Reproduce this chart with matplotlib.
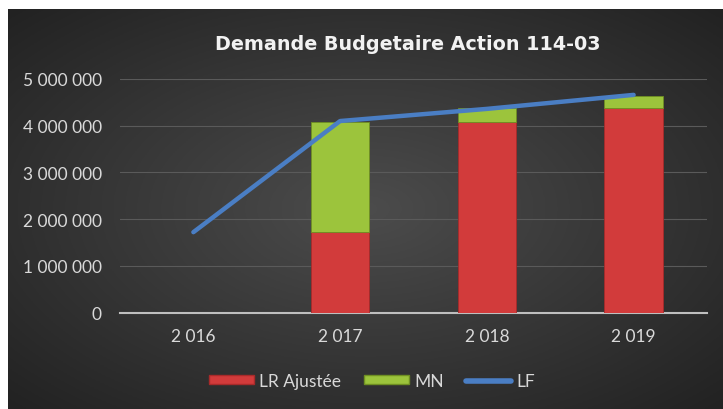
import numpy as np
import matplotlib
matplotlib.use("Agg")
import matplotlib.pyplot as plt
from matplotlib.patches import Patch
from matplotlib.lines import Line2D

# Données
annees = ["2 016", "2 017", "2 018", "2 019"]
lr_ajustee = [0, 1720000, 4080000, 4370000]
mn = [0, 2360000, 300000, 260000]
lf = [1720000, 4100000, 4360000, 4660000]

W, H = 723, 410
fig = plt.figure(figsize=(W / 100, H / 100), dpi=100)
fig.patch.set_facecolor("white")

# Fond sombre avec dégradé radial (zone du graphique, bord blanc en haut/gauche)
x0 = 8 / W
bg = fig.add_axes([x0, 0, 1 - x0, 1 - 10 / H])
yy, xx = np.mgrid[-1:1:200j, -1:1:350j]
r = np.sqrt(xx ** 2 + yy ** 2) / np.sqrt(2)
c_in = np.array([0x4c, 0x4c, 0x4c]) / 255
c_out = np.array([0x22, 0x22, 0x22]) / 255
img = c_in[None, None, :] * (1 - r[..., None]) + c_out[None, None, :] * r[..., None]
bg.imshow(img, aspect="auto", extent=[0, 1, 0, 1])
bg.axis("off")

# Zone de tracé
left, right = 120 / W, 707 / W
bottom, top = 1 - 313.5 / H, 1 - 80 / H
ax = fig.add_axes([left, bottom, right - left, top - bottom])
ax.set_facecolor("none")

x = np.arange(len(annees))
red = "#d23b3b"
green = "#9cc43c"
blue = "#4a7ec4"

ax.bar(x, lr_ajustee, width=0.4, color=red, edgecolor="#a82a2a", linewidth=0.6, zorder=3)
ax.bar(x, mn, width=0.4, bottom=lr_ajustee, color=green, edgecolor="#6f8f22", linewidth=0.6, zorder=3)
ax.plot(x, lf, color=blue, linewidth=3.2, solid_capstyle="round", zorder=4)

ax.set_xlim(-0.5, len(annees) - 0.5)
ax.set_ylim(0, 5000000)
ax.set_yticks(np.arange(0, 5000001, 1000000))
ax.set_yticklabels([f"{v:,}".replace(",", " ") for v in range(0, 5000001, 1000000)])
ax.set_xticks(x)
ax.set_xticklabels(annees)

ax.grid(axis="y", color="#5a5a5a", linewidth=0.8, zorder=0)
ax.set_axisbelow(True)
for s in ["top", "right", "left"]:
    ax.spines[s].set_visible(False)
ax.spines["bottom"].set_color("#bfbfbf")
ax.spines["bottom"].set_linewidth(1.5)
ax.tick_params(axis="both", length=0, colors="#d9d9d9", labelsize=12.5)
ax.tick_params(axis="y", pad=13)
ax.tick_params(axis="x", pad=11)
for lbl in ax.get_xticklabels() + ax.get_yticklabels():
    lbl.set_fontfamily("Lato")

fig.text(408 / W, 1 - 45 / H, "Demande Budgetaire Action 114-03",
         ha="center", va="center", color="#f2f2f2", fontsize=13.8,
         fontweight="bold", family="DejaVu Sans")

handles = [
    Patch(facecolor=red, edgecolor="#a82a2a"),
    Patch(facecolor=green, edgecolor="#6f8f22"),
    Line2D([0], [0], color=blue, linewidth=4, solid_capstyle="round"),
]
leg = fig.legend(handles, ["LR Ajustée", "MN", "LF"], loc="center",
                 bbox_to_anchor=(372 / W, 1 - 382 / H), ncol=3, frameon=False,
                 handlelength=2.6, handleheight=0.4, handletextpad=0.3,
                 columnspacing=1.3, prop={"family": "Lato", "size": 12.5})
for t in leg.get_texts():
    t.set_color("#d9d9d9")

fig.savefig("out.png", dpi=100, facecolor=fig.get_facecolor())
